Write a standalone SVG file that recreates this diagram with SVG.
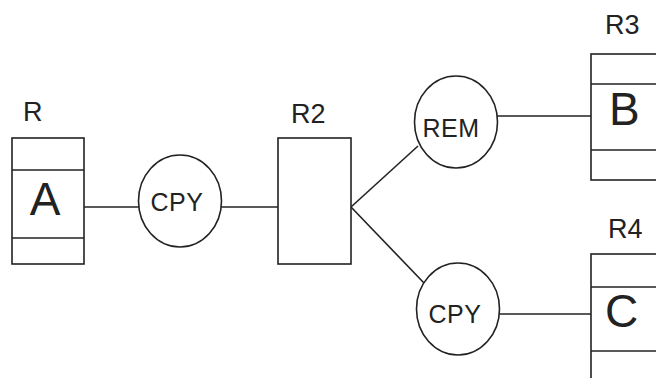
<svg xmlns="http://www.w3.org/2000/svg" width="656" height="378" viewBox="0 0 656 378">
<style>
.s{fill:none;stroke:#222;stroke-width:1.6}
.b{fill:#fff;stroke:#222;stroke-width:1.6}
.t{font-family:"Liberation Sans",Arial,sans-serif;fill:#222}
.lbl{font-size:27px}
.big{font-size:46px}
.op{font-size:25px;letter-spacing:0.5px}
</style>
<rect width="656" height="378" fill="#fff"/>
<g id="connectors">
<line class="s" x1="84" y1="207" x2="139" y2="207"/>
<line class="s" x1="221" y1="207" x2="278" y2="207"/>
<line class="s" x1="351" y1="207" x2="418" y2="146"/>
<line class="s" x1="351" y1="207" x2="424" y2="283"/>
<line class="s" x1="497" y1="116" x2="591" y2="116"/>
<line class="s" x1="499" y1="314" x2="591" y2="314"/>
</g>
<g id="R">
<text class="t lbl" x="23" y="121">R</text>
<rect class="b" x="12" y="138" width="72" height="126"/>
<line class="s" x1="12" y1="170" x2="84" y2="170"/>
<line class="s" x1="12" y1="238" x2="84" y2="238"/>
<text class="t big" x="45" y="215" text-anchor="middle">A</text>
</g>
<g id="CPY1">
<ellipse class="b" cx="180" cy="201" rx="41.5" ry="46"/>
<text class="t op" x="177" y="211" text-anchor="middle">CPY</text>
</g>
<g id="R2">
<text class="t lbl" x="291" y="123">R2</text>
<rect class="b" x="278" y="138" width="73" height="126"/>
</g>
<g id="REM">
<ellipse class="b" cx="456" cy="122" rx="41.5" ry="46"/>
<text class="t op" x="451" y="137" text-anchor="middle">REM</text>
</g>
<g id="CPY2">
<ellipse class="b" cx="458" cy="309" rx="41.5" ry="46"/>
<text class="t op" x="455" y="323" text-anchor="middle">CPY</text>
</g>
<g id="R3">
<text class="t lbl" x="605" y="34">R3</text>
<rect class="b" x="591" y="54" width="72" height="126"/>
<line class="s" x1="591" y1="84" x2="663" y2="84"/>
<line class="s" x1="591" y1="150" x2="663" y2="150"/>
<text class="t big" x="609" y="125">B</text>
</g>
<g id="R4">
<text class="t lbl" x="608" y="238">R4</text>
<rect class="b" x="591" y="254" width="72" height="126"/>
<line class="s" x1="591" y1="287" x2="663" y2="287"/>
<line class="s" x1="591" y1="351" x2="663" y2="351"/>
<text class="t big" x="605" y="327">C</text>
</g>
</svg>
